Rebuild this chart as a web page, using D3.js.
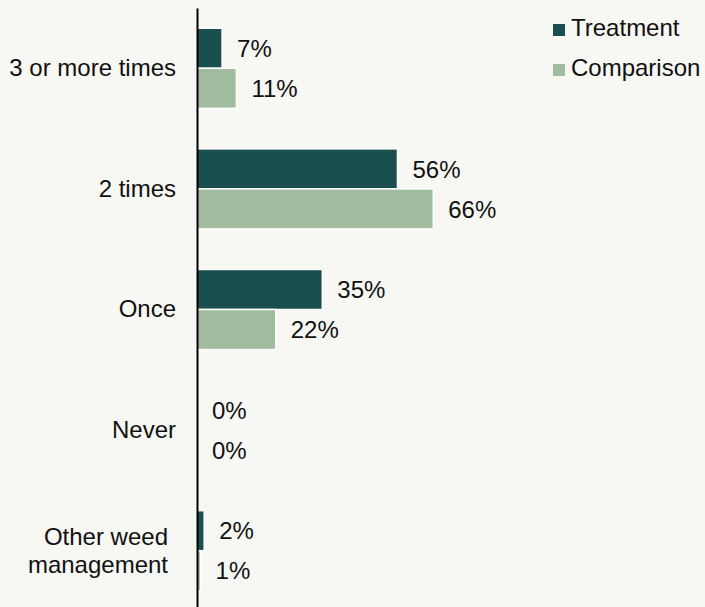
<!DOCTYPE html>
<html>
<head>
<meta charset="utf-8">
<script src="https://cdn.jsdelivr.net/npm/d3@7"></script>
<style>
  html, body { margin: 0; padding: 0; background: #f7f7f3; }
  svg { display: block; font-family: "Liberation Sans", Arial, sans-serif; }
</style>
</head>
<body>
<div id="chart"></div>
<script>
// categories top to bottom
var categories = ["3 or more times", "2 times", "Once", "Never", "Other weed management"];
var seriesNames = ["Treatment", "Comparison"];
var treatment = [7, 56, 35, 0, 2];
var comparison = [11, 66, 22, 0, 1];
var colors = ["#1b4e4f", "#a1bb9e"];

var width = 705, height = 607;

var svg = d3.select("#chart").append("svg")
    .attr("width", width)
    .attr("height", height);

svg.append("rect")
    .attr("width", width)
    .attr("height", height)
    .attr("fill", "#f7f7f3");

var x = d3.scaleLinear().domain([0, 100]).range([197, 555]);

var y = d3.scaleBand()
    .domain(categories)
    .range([8, 611])
    .paddingInner(0.336)
    .paddingOuter(0.168);

var ySub = d3.scaleBand()
    .domain(seriesNames)
    .range([0, y.bandwidth()]);

var data = categories.map(function(c, i) {
    return {cat: c, values: [
        {key: "Treatment", value: treatment[i]},
        {key: "Comparison", value: comparison[i]}
    ]};
});

var group = svg.selectAll(".group")
    .data(data)
    .enter().append("g")
    .attr("class", "group")
    .attr("transform", function(d) { return "translate(0," + y(d.cat) + ")"; });

group.selectAll("rect")
    .data(function(d) { return d.values; })
    .enter().append("rect")
    .attr("x", x(0))
    .attr("y", function(d) { return ySub(d.key); })
    .attr("width", function(d) { return x(d.value) - x(0); })
    .attr("height", ySub.bandwidth())
    .attr("fill", function(d, i) { return colors[i]; })
    .attr("stroke", "#ffffff")
    .attr("stroke-width", function(d) { return d.value > 0 ? 1.5 : 0; });

// value labels
group.selectAll(".val")
    .data(function(d) { return d.values; })
    .enter().append("text")
    .attr("class", "val")
    .attr("x", function(d) { return x(d.value) + 15; })
    .attr("y", function(d) { return ySub(d.key) + ySub.bandwidth() / 2; })
    .attr("dy", "0.36em")
    .style("font-size", "24px")
    .style("fill", "#111")
    .text(function(d) { return d.value + "%"; });

// category axis
var axis = svg.append("g")
    .attr("transform", "translate(" + x(0) + ",0)")
    .call(d3.axisLeft(y).tickSize(0).tickPadding(21));

axis.select(".domain")
    .attr("stroke", "#000")
    .attr("stroke-width", 2);

axis.selectAll(".tick text")
    .style("font-size", "24px")
    .style("font-family", "\"Liberation Sans\", Arial, sans-serif")
    .style("fill", "#111")
    .each(function(d) {
        if (d === "Other weed management") {
            var t = d3.select(this);
            t.text(null).attr("dy", null);
            t.append("tspan").attr("x", -29).attr("dy", "-0.25em").text("Other weed");
            t.append("tspan").attr("x", -29).attr("dy", "1.18em").text("management");
        }
    });

// legend
var legend = svg.append("g")
    .attr("transform", "translate(553,24)");

var item = legend.selectAll(".item")
    .data(seriesNames)
    .enter().append("g")
    .attr("transform", function(d, i) { return "translate(0," + (i * 40) + ")"; });

item.append("rect")
    .attr("width", 12)
    .attr("height", 12)
    .attr("fill", function(d, i) { return colors[i]; });

item.append("text")
    .attr("x", 18)
    .attr("y", 12)
    .style("font-size", "24px")
    .style("fill", "#111")
    .text(function(d) { return d; });
</script>
</body>
</html>
